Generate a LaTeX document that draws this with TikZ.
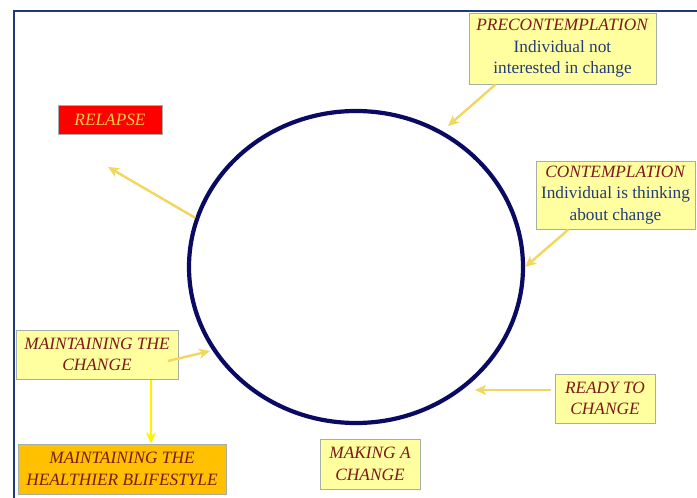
\documentclass[tikz,border=0pt]{standalone}
\usepackage{fontspec}
\setmainfont{Liberation Serif}
\usetikzlibrary{arrows.meta,shapes.geometric}
\definecolor{framecol}{RGB}{30,58,125}
\definecolor{ringcol}{RGB}{10,10,100}
\definecolor{boxfill}{RGB}{255,255,160}
\definecolor{boxedge}{RGB}{165,175,165}
\definecolor{headcol}{RGB}{125,25,25}
\definecolor{bodycol}{RGB}{35,60,120}
\definecolor{pointer}{RGB}{242,215,95}
\definecolor{goldfill}{RGB}{255,192,0}
\definecolor{relapsetxt}{RGB}{255,205,70}
\tikzset{
  stagebox/.style={draw=boxedge, line width=1pt, fill=boxfill, inner sep=0pt,
    align=center, font=\fontsize{17.3}{21.5}\selectfont, text=headcol},
  pointer/.style={draw=pointer, line width=2.4pt, -{Stealth[length=11pt,width=10pt,inset=3pt]}},
}
\newcommand{\stagehead}[1]{\textit{#1}}
\newcommand{\stagebody}[1]{\textcolor{bodycol}{#1}}
\begin{document}
\begin{tikzpicture}[x=1pt,y=-1pt]
  \useasboundingbox (0,0) rectangle (697,498);
  \fill[white] (0,0) rectangle (697,498);
  % page frame: top and left rules
  \draw[framecol, line width=2.8pt] (14,498) -- (14,11) -- (697,11);

  % the cycle of change
  \node[ellipse, draw=ringcol, line width=4.2pt, minimum width=334pt, minimum height=312pt, inner sep=0pt]
    (cycle) at (356,267) {};

  % stage labels
  \node[stagebox, minimum width=187pt, minimum height=71pt] (pre) at (562.5,48.5)
    {\stagehead{PRECONTEMPLATION}\\\stagebody{Individual not}\\\stagebody{interested in change}};
  \node[stagebox, minimum width=159pt, minimum height=68pt] (con) at (615.5,195)
    {\stagehead{CONTEMPLATION}\\\stagebody{Individual is thinking}\\\stagebody{about change}};
  \node[stagebox, fill=red, text=relapsetxt, minimum width=104pt, minimum height=29pt] (relapse) at (110,119.5)
    {\stagehead{RELAPSE}};
  \node[stagebox, minimum width=162pt, minimum height=49pt] (maint) at (97,354.5)
    {\stagehead{MAINTAINING THE}\\\stagehead{CHANGE}};
  \node[stagebox, fill=goldfill, minimum width=208pt, minimum height=50pt] (healthy) at (122,469)
    {\stagehead{MAINTAINING THE}\\\stagehead{HEALTHIER BLIFESTYLE}};
  \node[stagebox, minimum width=100pt, minimum height=49pt] (ready) at (605,398.5)
    {\stagehead{READY TO}\\\stagehead{CHANGE}};
  \node[stagebox, minimum width=100pt, minimum height=50pt] (making) at (370,464)
    {\stagehead{MAKING A}\\\stagehead{CHANGE}};

  % arrow ends near the ring
  \coordinate (preTip) at (448,126);
  \coordinate (relapseTip) at (108,167);
  \coordinate (maintTip) at (210,351);
  \coordinate (readyTip) at (475,390);
  \coordinate (maintStart) at (168,361);

  % connectors
  \draw[pointer] ([xshift=-67pt]pre.south) -- (preTip);
  \draw[pointer] ([xshift=-47pt]con.south) -- (cycle.0);
  \draw[pointer] (cycle.163) -- (relapseTip);
  \draw[pointer] (maintStart) -- (maintTip);
  \draw[pointer] ([xshift=-4pt,yshift=8.5pt]ready.west) -- (readyTip);
  \draw[draw=yellow, line width=1.8pt, -{Stealth[length=11pt,width=10pt,inset=3pt]}]
    ([xshift=54pt]maint.south) -- ([xshift=29pt]healthy.north);
\end{tikzpicture}
\end{document}
